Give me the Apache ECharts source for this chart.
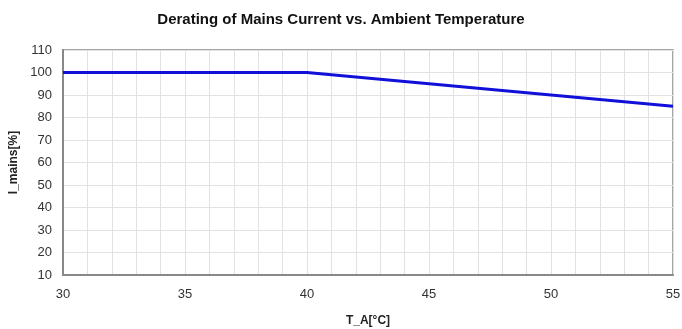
<!DOCTYPE html>
<html>
<head>
<meta charset="utf-8">
<script src="https://cdn.jsdelivr.net/npm/echarts@6/dist/echarts.min.js"></script>
<style>
  html, body { margin: 0; padding: 0; background: #fff; }
  #chart { width: 682px; height: 329px; }
</style>
</head>
<body>
<div id="chart"></div>
<script>
  // data
  var tempC = [30, 40, 55];
  var mainsPct = [100, 100, 85];
  var chartTitle = 'Derating of Mains Current vs. Ambient Temperature';
  var xName = 'T_A[°C]';
  var yName = 'I_mains[%]';

  var points = [];
  for (var i = 0; i < tempC.length; i++) {
    points.push([tempC[i], mainsPct[i]]);
  }

  var myChart = echarts.init(document.getElementById('chart'));
  var font = 'Liberation Sans, Arial, sans-serif';
  myChart.setOption({
    animation: false,
    title: {
      text: chartTitle,
      left: 'center',
      top: 7,
      textStyle: { color: '#111', fontWeight: 'bold', fontSize: 15, fontFamily: font }
    },
    grid: {
      left: 63, right: 9, top: 50, bottom: 54,
      outerBoundsMode: 'none',
      show: true, borderColor: '#888', borderWidth: 1.5
    },
    xAxis: {
      type: 'value',
      min: 30, max: 55, interval: 1,
      name: xName, nameLocation: 'middle', nameGap: 40,
      nameTextStyle: { color: '#222', fontWeight: 'bold', fontSize: 12, fontFamily: font },
      axisLine: { show: true, lineStyle: { color: '#888', width: 2 } },
      axisTick: { show: false },
      axisLabel: {
        color: '#333', fontSize: 13, fontFamily: font, margin: 13,
        formatter: function (v) { return v % 5 === 0 ? String(v) : ''; }
      },
      splitLine: { show: true, lineStyle: { color: '#e2e2e2', width: 1 } }
    },
    yAxis: {
      type: 'value',
      min: 10, max: 110, interval: 10,
      name: yName, nameLocation: 'middle', nameGap: 41,
      nameTextStyle: { color: '#222', fontWeight: 'bold', fontSize: 12, fontFamily: font },
      axisLine: { show: true, lineStyle: { color: '#888', width: 2 } },
      axisTick: { show: false },
      axisLabel: { color: '#333', fontSize: 13, fontFamily: font, margin: 11 },
      splitLine: { show: true, lineStyle: { color: '#e2e2e2', width: 1 } }
    },
    series: [{
      type: 'line',
      data: points,
      symbol: 'none',
      lineStyle: { color: '#1010d8', width: 3 }
    }]
  });
</script>
</body>
</html>
